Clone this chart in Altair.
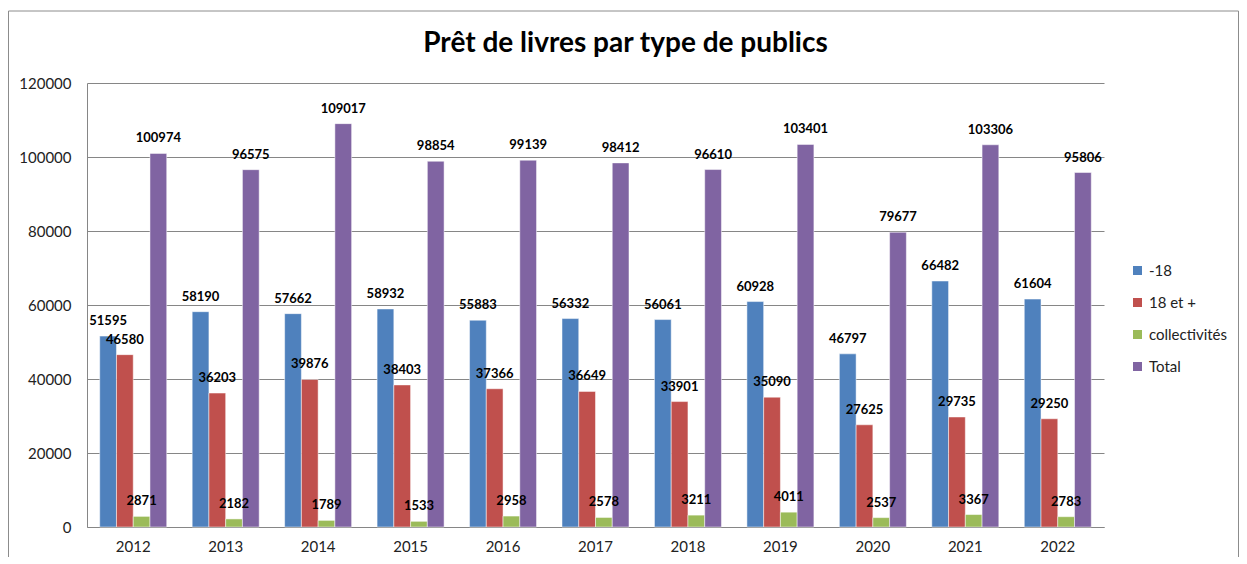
import altair as alt
import pandas as pd

years = ["2012", "2013", "2014", "2015", "2016", "2017", "2018", "2019", "2020", "2021", "2022"]
series = ["-18", "18 et +", "collectivités", "Total"]
moins18 = [51595, 58190, 57662, 58932, 55883, 56332, 56061, 60928, 46797, 66482, 61604]
plus18 = [46580, 36203, 39876, 38403, 37366, 36649, 33901, 35090, 27625, 29735, 29250]
collectivites = [2871, 2182, 1789, 1533, 2958, 2578, 3211, 4011, 2537, 3367, 2783]
total = [100974, 96575, 109017, 98854, 99139, 98412, 96610, 103401, 79677, 103306, 95806]
colors = ["#4F81BD", "#C0504D", "#9BBB59", "#8064A2"]
title_text = "Prêt de livres par type de publics"

rows = []
for s, vals in zip(series, [moins18, plus18, collectivites, total]):
    for y, v in zip(years, vals):
        rows.append({"annee": y, "serie": s, "valeur": v})
df = pd.DataFrame(rows)

FONT = "Lato"

base = alt.Chart(df).encode(
    x=alt.X("annee:N", sort=years,
            scale=alt.Scale(paddingInner=0, paddingOuter=0),
            axis=alt.Axis(title=None, labelAngle=0, labelPadding=12, grid=False,
                          ticks=False, labelFontSize=15, labelFont=FONT, labelColor="#222")),
    xOffset=alt.XOffset("serie:N", sort=series,
                        scale=alt.Scale(domain=series, paddingInner=0, paddingOuter=0.76)),
    y=alt.Y("valeur:Q",
            scale=alt.Scale(domain=[0, 120000], nice=False),
            axis=alt.Axis(title=None, values=[0, 20000, 40000, 60000, 80000, 100000, 120000],
                          grid=True, ticks=False, labelPadding=16, labelFontSize=15,
                          labelFont=FONT, labelColor="#222", format="d")),
)

bars = base.mark_bar(stroke="white", strokeWidth=0.7, strokeOpacity=0.7).encode(
    color=alt.Color("serie:N", sort=series,
                    scale=alt.Scale(domain=series, range=colors),
                    legend=alt.Legend(title=None, orient="none", legendX=1043, legendY=180,
                                      symbolType="square", symbolSize=81, symbolStrokeWidth=0,
                                      labelFontSize=15, labelFont=FONT, labelColor="#222",
                                      clipHeight=15, rowPadding=16, labelOffset=4, padding=0))
)

labels = base.mark_text(baseline="alphabetic", dy=-11, fontWeight="bold", fontSize=13,
                        font=FONT, color="black").encode(
    text=alt.Text("valeur:Q", format="d")
)

deco = pd.DataFrame({"a": [0]})
border = alt.Chart(deco).mark_rect(
    fill="transparent", stroke="#8c8c8c", strokeWidth=1
).encode(x=alt.value(-78.5), x2=alt.value(1151.5), y=alt.value(-72), y2=alt.value(600))

title = alt.Chart(deco).mark_text(
    font=FONT, fontSize=28, fontWeight="bold", color="black",
    align="center", baseline="alphabetic"
).encode(x=alt.value(538.5), y=alt.value(-31), text=alt.value(title_text))

chart = alt.layer(border, bars, labels, title).properties(
    width=1017, height=444,
    autosize=alt.AutoSizeParams(type="none"),
    padding={"left": 79, "top": 75, "right": 135, "bottom": 30},
).configure_view(stroke=None).configure_axis(
    domainColor="#868686", gridColor="#868686", domainWidth=1, gridWidth=1
)

chart.save("out.html", embed_options={"renderer": "svg", "actions": False})
